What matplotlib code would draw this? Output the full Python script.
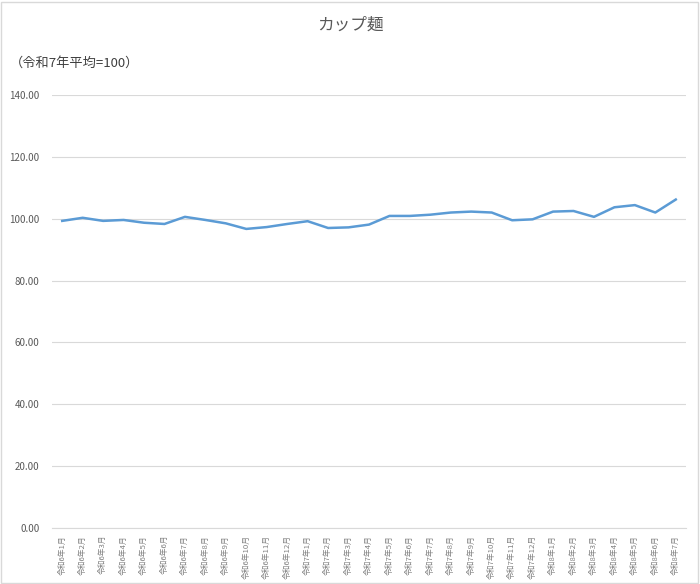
import numpy as np
import matplotlib
matplotlib.use('Agg')
import matplotlib.pyplot as plt
from matplotlib.patches import Rectangle

plt.rcParams['font.family'] = ['Noto Sans CJK JP', 'DejaVu Sans']

# data
months = ['令和6年1月', '令和6年2月', '令和6年3月', '令和6年4月', '令和6年5月', '令和6年6月',
          '令和6年7月', '令和6年8月', '令和6年9月', '令和6年10月', '令和6年11月', '令和6年12月',
          '令和7年1月', '令和7年2月', '令和7年3月', '令和7年4月', '令和7年5月', '令和7年6月',
          '令和7年7月', '令和7年8月', '令和7年9月', '令和7年10月', '令和7年11月', '令和7年12月',
          '令和8年1月', '令和8年2月', '令和8年3月', '令和8年4月', '令和8年5月', '令和8年6月',
          '令和8年7月']
index_values = [99.3, 100.3, 99.3, 99.6, 98.7, 98.3, 100.6, 99.6, 98.5, 96.7, 97.3, 98.3,
                99.2, 97.0, 97.2, 98.1, 100.9, 100.9, 101.3, 102.0, 102.3, 102.0, 99.5, 99.8,
                102.3, 102.5, 100.6, 103.7, 104.4, 102.0, 106.2]
y_ticks = [0, 20, 40, 60, 80, 100, 120, 140]

W, H = 700, 584
fig = plt.figure(figsize=(W / 100, H / 100), dpi=100)
fig.patches.append(Rectangle((1 / W, 1 / H), 1 - 3 / W, 1 - 3 / H, transform=fig.transFigure,
                             fill=False, edgecolor='#d9d9d9', linewidth=1))

ax = fig.add_axes([52 / W, (H - 528) / H, (686 - 52) / W, (528 - 95) / H])
x = np.arange(len(months))
ax.plot(x, index_values, color='#5B9BD5', linewidth=1.8, solid_joinstyle='round')

ax.set_xlim(-0.5, len(months) - 0.5)
ax.set_ylim(0, 140)
ax.set_yticks(y_ticks)
ax.set_yticklabels(['%.2f' % v for v in y_ticks], fontsize=7, color='#595959')
ax.set_xticks(x)
ax.set_xticklabels(months, rotation=90, fontsize=5.6, color='#7f7f7f', va='top')
ax.tick_params(axis='both', length=0)
ax.tick_params(axis='x', pad=5)
ax.tick_params(axis='y', pad=9)
ax.grid(axis='y', color='#d9d9d9', linewidth=0.8)
ax.set_axisbelow(True)
for s in ['top', 'right', 'left']:
    ax.spines[s].set_visible(False)
ax.spines['bottom'].set_color('#d9d9d9')

fig.text(0.5, 1 - 25 / H, 'カップ麺', ha='center', va='center', fontsize=12, color='#595959')
fig.text(10 / W, 1 - 63 / H, '（令和7年平均=100）', ha='left', va='center', fontsize=9.5, color='#404040')

fig.savefig('out.png', dpi=100)
